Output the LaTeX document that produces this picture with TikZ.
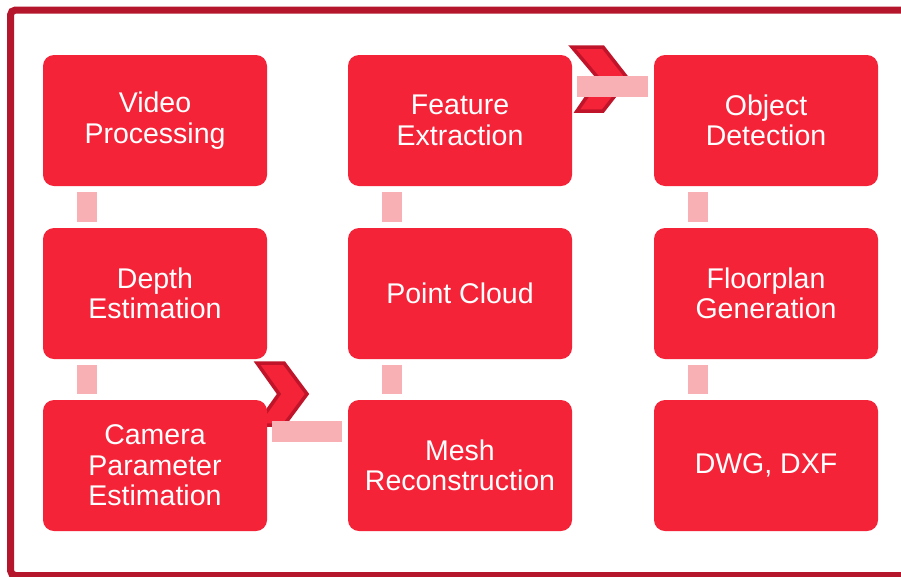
\documentclass[tikz,border=0pt]{standalone}
\usepackage{fontspec}
\setmainfont{Liberation Sans}
\definecolor{boxred}{HTML}{F52338}
\definecolor{framered}{HTML}{B5162B}
\definecolor{linkpink}{HTML}{F8B0B4}
\definecolor{chevdark}{HTML}{C0142A}
\tikzset{
  stepbox/.style={fill=boxred, rounded corners=11pt, minimum width=224pt, minimum height=131pt,
    inner sep=0pt, text=white, align=center, font=\fontsize{28.5}{30.5}\selectfont},
  chev/.style={fill=boxred, draw=chevdark, line width=3.5pt, line join=miter},
}
\begin{document}
\begin{tikzpicture}[x=1pt,y=-1pt]
\useasboundingbox (0,0) rectangle (901,576);
\fill[white] (0,0) rectangle (901,576);
\draw[framered, line width=7pt, rounded corners=5pt] (10.5,10) rectangle (915,575.5);
% chevrons (behind boxes)
\draw[chev] (257,363) -- (284,363) -- (307,394) -- (284,425) -- (257,425) -- (279,394) -- cycle;
\draw[chev] (572,47) -- (603,47) -- (628,79) -- (603,111) -- (577,111) -- (599,79) -- cycle;
% boxes
\node[stepbox] (v) at (155,120.5) {Video\\Processing};
\node[stepbox] (d) at (155,293.5) {Depth\\Estimation};
\node[stepbox] (c) at (155,465.5) {Camera\\Parameter\\Estimation};
\node[stepbox] (f) at (460,120.5) {Feature\\Extraction};
\node[stepbox] (p) at (460,293.5) {Point Cloud};
\node[stepbox] (m) at (460,465.5) {Mesh\\Reconstruction};
\node[stepbox] (o) at (766,120.5) {Object\\Detection};
\node[stepbox] (g) at (766,293.5) {Floorplan\\Generation};
\node[stepbox] (x) at (766,465.5) {DWG, DXF};
% vertical links
\foreach \a/\b in {v/d,d/c,f/p,p/m,o/g,g/x}{
  \path (\a.south) ++(-78,6) coordinate (\a l1);
  \path (\b.north) ++(-58,-6) coordinate (\a l2);
  \fill[linkpink] (\a l1) rectangle (\a l2);
}
% horizontal links
\path (c.east) ++(5,-45) coordinate (cl1);
\path (m.west) ++(-6,-24) coordinate (cl2);
\fill[linkpink] (cl1) rectangle (cl2);
\path (f.east) ++(5,-45) coordinate (fl1);
\path (o.west) ++(-6,-24) coordinate (fl2);
\fill[linkpink] (fl1) rectangle (fl2);
\end{tikzpicture}
\end{document}
